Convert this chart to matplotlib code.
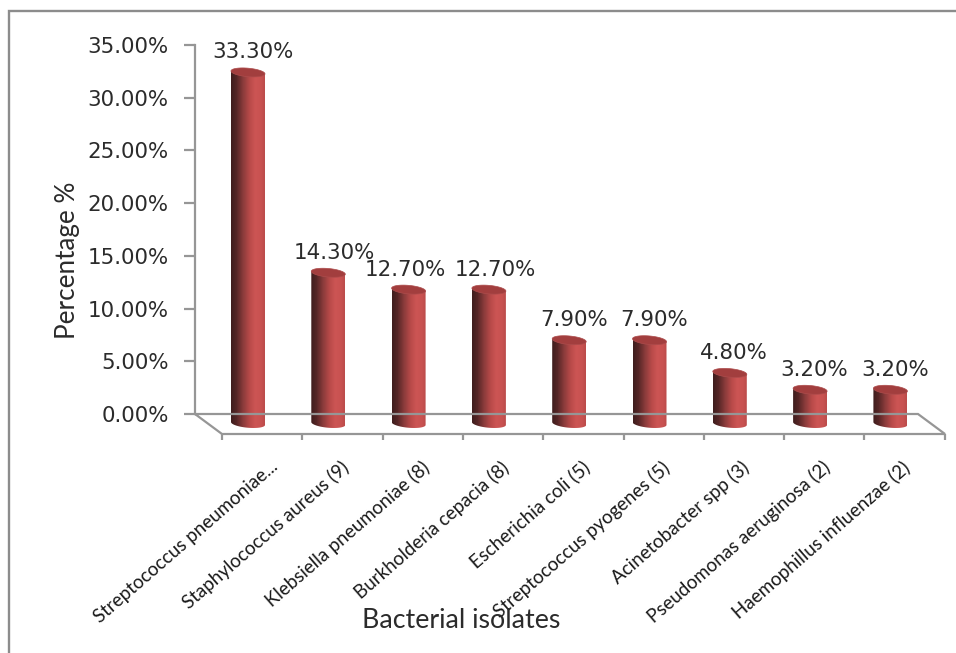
import numpy as np
import matplotlib
matplotlib.use("Agg")
import matplotlib.pyplot as plt
from matplotlib.colors import LinearSegmentedColormap
from matplotlib.lines import Line2D
from matplotlib.patches import Polygon
from matplotlib.transforms import ScaledTranslation

categories = ["Streptococcus pneumoniae...", "Staphylococcus aureus (9)",
              "Klebsiella pneumoniae (8)", "Burkholderia cepacia (8)",
              "Escherichia coli (5)", "Streptococcus pyogenes (5)",
              "Acinetobacter spp (3)", "Pseudomonas aeruginosa (2)",
              "Haemophillus influenzae (2)"]
values = [33.3, 14.3, 12.7, 12.7, 7.9, 7.9, 4.8, 3.2, 3.2]
value_labels = ["33.30%", "14.30%", "12.70%", "12.70%", "7.90%", "7.90%", "4.80%", "3.20%", "3.20%"]
y_ticks = [0, 5, 10, 15, 20, 25, 30, 35]

W, H = 956, 653
DPI = 100
GREY = "#969696"
TXT = "#2b2b2b"

fig = plt.figure(figsize=(W / DPI, H / DPI), dpi=DPI, facecolor="white")
AL, AR, AT, AB = 195, 945, 45, 414
ax = fig.add_axes([AL / W, 1 - AB / H, (AR - AL) / W, (AB - AT) / H])
ax.patch.set_visible(False)


def fig_line(xs, ys, lw=2.0, color=GREY):
    fig.add_artist(Line2D([x / W for x in xs], [1 - y / H for y in ys],
                          transform=fig.transFigure, color=color, lw=lw,
                          solid_capstyle="butt", solid_joinstyle="miter"))


# outer picture frame
fig_line([8.5, 8.5, 956], [653, 11, 11], lw=1.7, color="#8c8c8c")

# floor of the 3D box
fig_line([195, 222, 945, 918, 195], [414, 434, 434, 414, 414], lw=1.6)
for k in range(10):
    x = 222 + 80.3 * k
    fig_line([x, x], [434, 440], lw=1.6)

PITCH = 80.3
X0 = 248
xlim = ((AL - X0) / PITCH, (AR - X0) / PITCH)

for s in ("top", "right", "bottom"):
    ax.spines[s].set_visible(False)
ax.spines["left"].set_color(GREY)
ax.spines["left"].set_linewidth(1.6)
ax.set_xticks([])
ax.set_yticks(y_ticks)
ax.set_yticklabels([f"{t:.2f}%" for t in y_ticks], fontsize=15.4, color=TXT)
ax.tick_params(axis="y", length=8, width=1.6, color=GREY, pad=11)

# cylinders stand in front of the back wall: 9 px lower than the axis zero
offset = ax.transData + ScaledTranslation(0, -9.5 / DPI, fig.dpi_scale_trans)
BW = 34 / PITCH
EH = 8.5 / 10.54
TILT = 0.17 * EH
cmap = LinearSegmentedColormap.from_list(
    "cyl", [(0, "#401e1e"), (0.15, "#552626"), (0.35, "#8a3b3b"), (0.55, "#b84a49"),
            (0.72, "#cc5554"), (0.9, "#c85251"), (1, "#bc4c4b")])
grad = np.linspace(0, 1, 34).reshape(1, -1)
upper = np.linspace(0, 2 * np.pi, 80)


def rim(i, y0, ts):
    return [(i + BW / 2 * np.cos(t), y0 + EH / 2 * np.sin(t) - TILT * np.cos(t)) for t in ts]


for i, v in enumerate(values):
    ax.bar(i, v, width=BW * 0.9, color="#a84342", transform=offset, zorder=2, clip_on=False)
    verts = rim(i, 0, np.linspace(np.pi, 2 * np.pi, 40)) + [(i + BW / 2, v - TILT), (i - BW / 2, v + TILT)]
    clip = Polygon(verts, closed=True, transform=offset)
    im = ax.imshow(grad, cmap=cmap, aspect="auto", origin="lower", transform=offset,
                   extent=(i - BW / 2, i + BW / 2, -EH, v + EH), zorder=3,
                   interpolation="bilinear")
    im.set_clip_box(fig.bbox)
    im.set_clip_path(clip)
    ax.add_patch(Polygon(rim(i, v, upper), closed=True, facecolor="#a23e3e", edgecolor="#ad4c4c",
                         lw=0.5, transform=offset, zorder=4, clip_on=False))

ax.set_xlim(*xlim)
ax.set_ylim(0, 35)

# value labels
label_dx = [5, 6, -3, 6, 5, 5, 4, 4, 5]
for i, (v, t) in enumerate(zip(values, value_labels)):
    ax.annotate(t, xy=(i, v), xycoords=offset, xytext=(label_dx[i] * 0.72, 20 * 0.72),
                textcoords="offset points", ha="center", va="center",
                fontsize=15.4, color=TXT, annotation_clip=False, zorder=6)

# category labels (anchored at their upper right end)
end_x = [270, 341, 421, 501, 581, 661, 741, 822, 902]
for i, t in enumerate(categories):
    fig.text(end_x[i] / W, 1 - 458 / H, t, rotation=41, rotation_mode="anchor",
             ha="right", va="top", fontsize=13.5, family="Lato", color="#1a1a1a")

fig.text(461 / W, 1 - 621 / H, "Bacterial isolates", ha="center", va="center",
         fontsize=19.3, family="Lato", color=TXT)
fig.text(68 / W, 1 - 260 / H, "Percentage %", rotation=90, ha="center", va="center",
         fontsize=18.8, family="Lato", color=TXT)

fig.savefig("out.png", dpi=DPI, facecolor="white")
